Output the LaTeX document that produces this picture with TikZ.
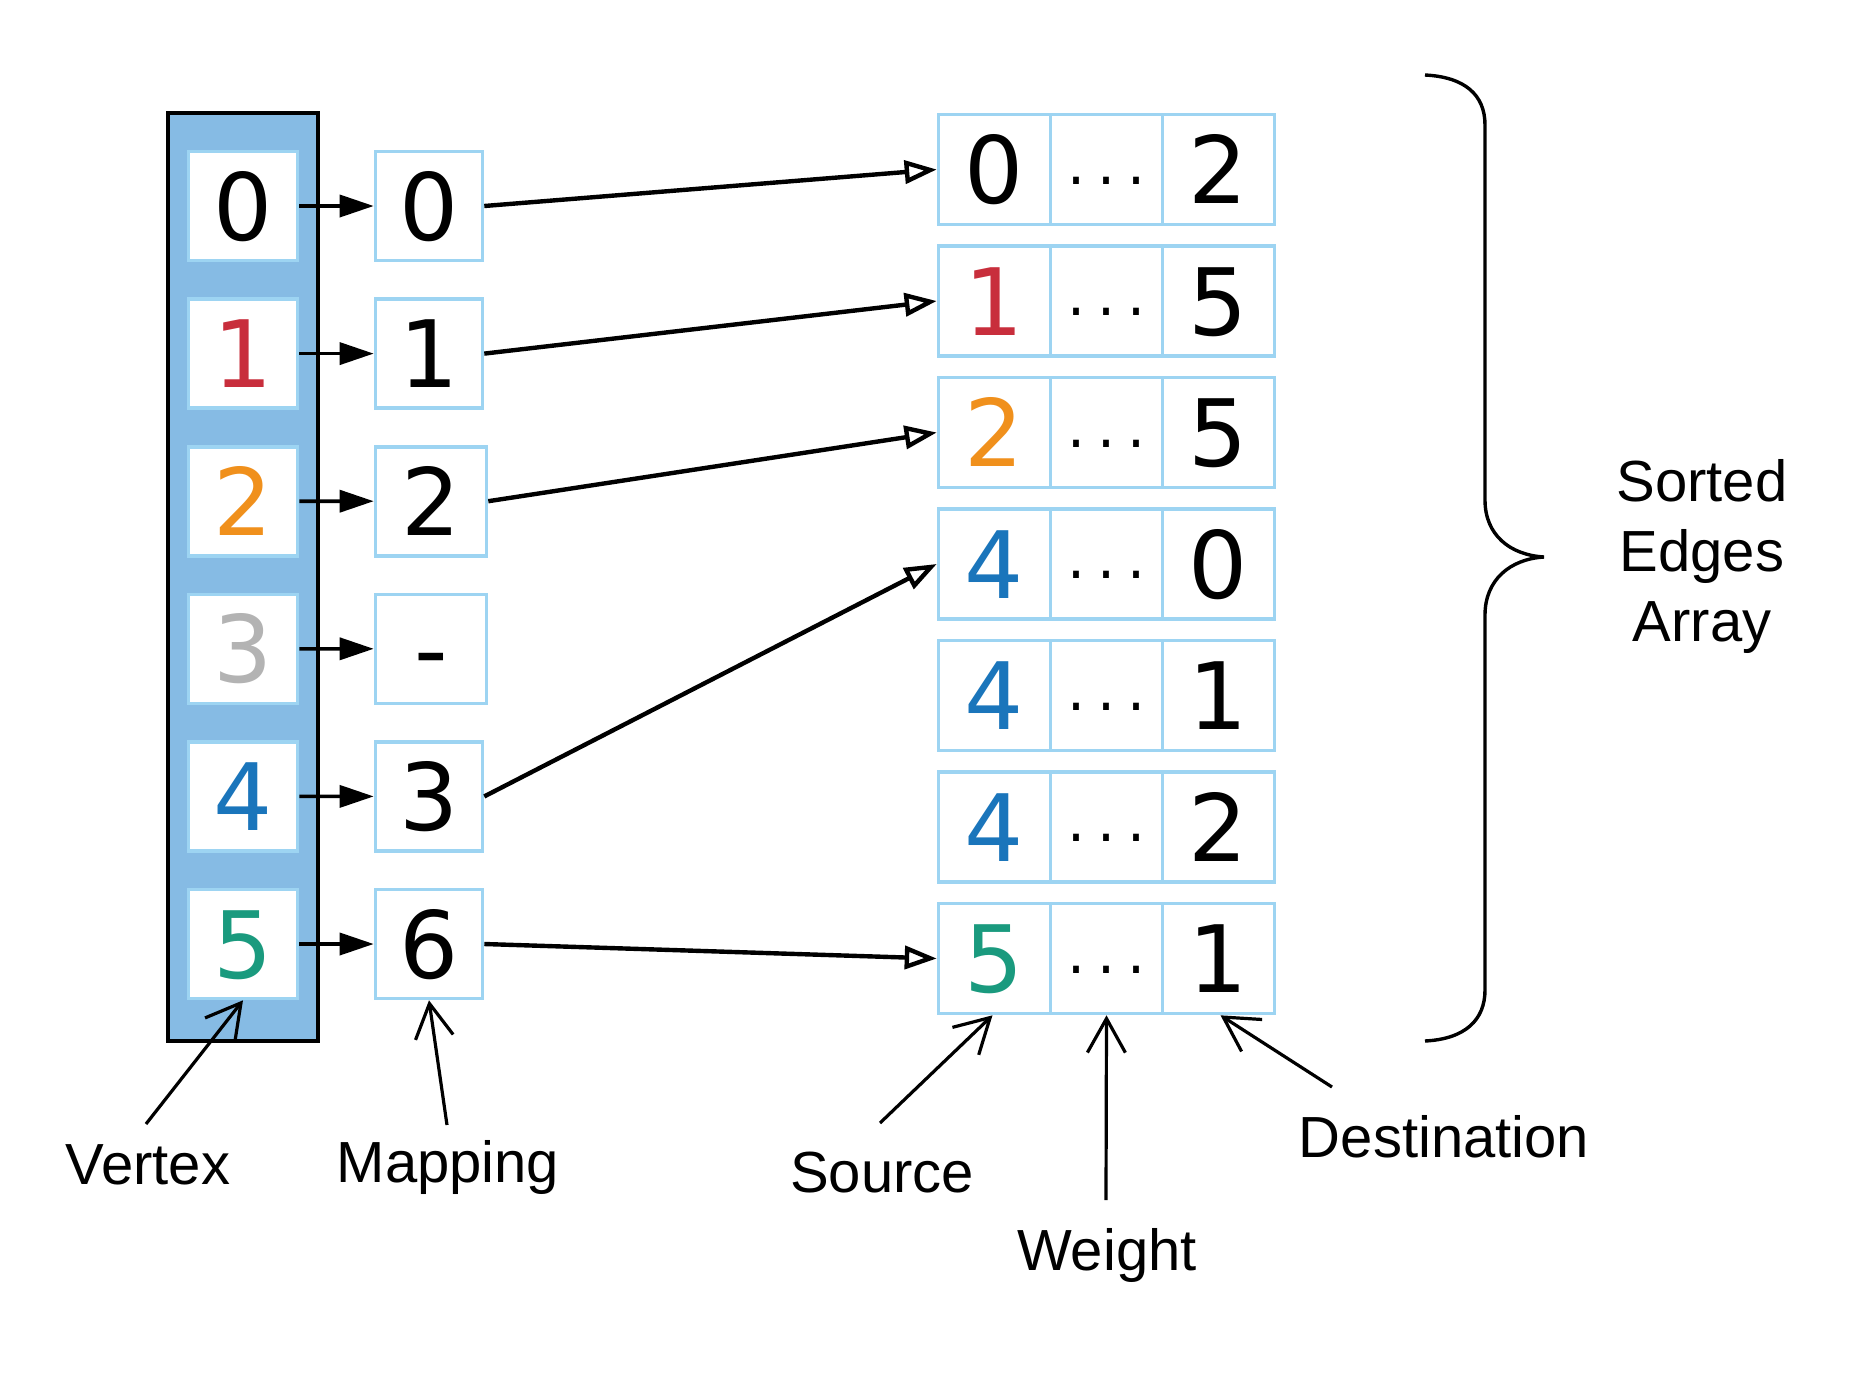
\documentclass[tikz,border=0pt]{standalone}
\usepackage{fontspec}
\setmainfont{Liberation Sans}
\newfontfamily\monof{Liberation Mono}
\newfontfamily\digf{DejaVu Sans}
\usetikzlibrary{arrows.meta}
\definecolor{lblue}{HTML}{9DD4F2}
\definecolor{vfill}{HTML}{86BBE4}
\definecolor{cred}{HTML}{C82E3C}
\definecolor{corange}{HTML}{F0901C}
\definecolor{cgray}{HTML}{B3B3B3}
\definecolor{cblue}{HTML}{1A75BB}
\definecolor{cteal}{HTML}{1A9A7E}
\begin{document}
\begin{tikzpicture}[x=0.5pt,y=-0.5pt,
  cellbox/.style={draw=lblue, line width=1.8pt, fill=white, inner sep=0pt,
    font=\digf\fontsize{46.5}{46.5}\selectfont, text height=34pt, text depth=0pt},
  vbox/.style={cellbox, minimum width=54.5pt, minimum height=54.5pt},
  mbox/.style={cellbox, minimum width=53.5pt, minimum height=54.5pt},
  wbox/.style={cellbox, minimum width=55.5pt, minimum height=54.5pt},
  ecell/.style={cellbox, minimum width=56pt, minimum height=55pt},
  dotsnode/.style={inner sep=0pt, anchor=base, font=\monof\fontsize{25}{25}\selectfont},
  lbl/.style={inner sep=0pt, anchor=base, font=\fontsize{29}{35}\selectfont},
  sarr/.style={line width=1.8pt, -{Triangle[length=17pt, width=11pt]}},
  larr/.style={line width=2.2pt, -{Triangle[open, length=16pt, width=11.5pt]}},
  barr/.style={line width=1.6pt, -{Straight Barb[length=17pt, width=19pt]}},
  bracepath/.style={line width=1.7pt}
]
\useasboundingbox (0,0) rectangle (1875,1388);

% vertex frame
\draw[line width=2.2pt, fill=vfill] (168,113) rectangle (318,1041);

% vertex boxes
\foreach \i/\c in {0/black,1/cred,2/corange,3/cgray,4/cblue,5/cteal}
  \node[vbox, text=\c] (v\i) at (243,{206+147.6*\i}) {\i};

% mapping boxes
\node[mbox] (m0) at (429,206) {0};
\node[mbox] (m1) at (429,353.6) {1};
\node[wbox] (m2) at (431,501.2) {2};
\node[wbox] (m3) at (431,648.8) {-};
\node[mbox] (m4) at (429,796.4) {3};
\node[mbox] (m5) at (429,944) {6};

% short arrows
\foreach \i in {0,...,5}
  \draw[sarr] (v\i.east) -- (m\i.west);

% edges array
\foreach \k/\s/\c/\d in {0/0/black/2,1/1/cred/5,2/2/corange/5,3/4/cblue/0,4/4/cblue/1,5/4/cblue/2,6/5/cteal/1}{
  \node[ecell, text=\c] (ea\k) at (994.5,{169.5+131.5*\k}) {\s};
  \node[ecell] (eb\k) at (1106.5,{169.5+131.5*\k}) {};
  \node[ecell] (ec\k) at (1218.5,{169.5+131.5*\k}) {\d};
  \node[dotsnode] (dt\k) at (1106.5,{184+131.5*\k}) {...};
}

% long arrows
\draw[larr] (m0.east) -- (ea0.west);
\draw[larr] (m1.east) -- (ea1.west);
\draw[larr] (m2.east) -- (ea2.west);
\draw[larr] (m4.east) -- (ea3.west);
\draw[larr] (m5.east) -- (ea6.west);

% brace
\draw[bracepath] (1425,75) .. controls (1465,77) and (1485,95) .. (1485,125)
  -- (1485,500) .. controls (1485,535) and (1510,555) .. (1544,557)
  .. controls (1510,559) and (1485,580) .. (1485,615)
  -- (1485,990) .. controls (1485,1020) and (1465,1039) .. (1425,1041);

\node[inner sep=0pt, anchor=base, align=center, font=\fontsize{29}{35}\selectfont] (tsorted) at (1702,641) {Sorted\\Edges\\Array};

% labels
\node[lbl] (tV) at (148,1184) {Vertex};
\node[lbl] (tM) at (448,1182) {Mapping};
\node[lbl] (tS) at (882,1192) {Source};
\node[lbl] (tW) at (1107,1270) {Weight};
\node[lbl] (tD) at (1444,1157) {Destination};

\coordinate (cV) at (146,1124);
\coordinate (cM) at (447,1125);
\coordinate (cS) at (880,1123);
\coordinate (cW) at (1106,1200);
\coordinate (cD) at (1332,1087);

\draw[barr] (cV) -- (v5.south);
\draw[barr] (cM) -- (m5.south);
\draw[barr] (cS) -- ([xshift=-1pt]ea6.south);
\draw[barr] (cW) -- (eb6.south);
\draw[barr] (cD) -- ([xshift=1pt]ec6.south);
\end{tikzpicture}
\end{document}
